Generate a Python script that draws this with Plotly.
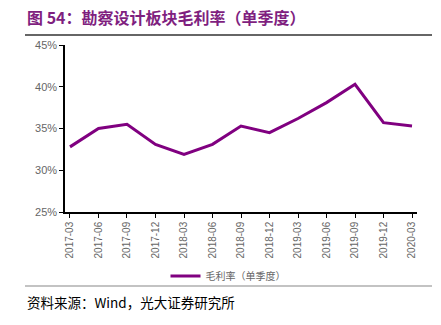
import plotly.graph_objects as go

categories = ["2017-03", "2017-06", "2017-09", "2017-12", "2018-03", "2018-06", "2018-09",
              "2018-12", "2019-03", "2019-06", "2019-09", "2019-12", "2020-03"]
gross_margin = [32.8, 35.0, 35.5, 33.1, 31.9, 33.1, 35.3, 34.5, 36.2, 38.1, 40.3, 35.7, 35.3]
y_ticks = [25, 30, 35, 40, 45]
y_tick_labels = ["25%", "30%", "35%", "40%", "45%"]

title_text = "图 54：勘察设计板块毛利率（单季度）"
source_text = "资料来源：Wind，光大证券研究所"
series_name = "毛利率（单季度）"

W, H = 441, 325

fig = go.Figure()
fig.add_trace(go.Scatter(
    x=categories, y=gross_margin, mode="lines", name=series_name,
    line=dict(color="#800080", width=3),
))

fig.update_layout(
    width=W, height=H,
    margin=dict(l=0, r=0, t=0, b=0, pad=0),
    paper_bgcolor="white", plot_bgcolor="white",
    showlegend=True,
    legend=dict(orientation="h", x=228 / W, xanchor="center", y=(H - 276) / H, yanchor="middle",
                font=dict(family="Noto Sans CJK SC", size=10, color="#666666"),
                itemwidth=30, bgcolor="rgba(0,0,0,0)"),
    font=dict(family="Liberation Sans, Arial", color="#666666"),
    xaxis=dict(
        domain=[65 / W, 417 / W], automargin=False,
        type="category", range=[-0.175, 12.175],
        showline=True, linecolor="black", linewidth=1.5,
        ticks="outside", ticklen=4, tickcolor="black",
        tickangle=-90, tickfont=dict(size=10, color="#666666"),
        showgrid=False, zeroline=False,
    ),
    yaxis=dict(
        domain=[(H - 212) / H, (H - 45) / H], automargin=False,
        range=[25, 45], tickvals=y_ticks, ticktext=y_tick_labels,
        showline=True, linecolor="black", linewidth=1.5,
        ticks="outside", ticklen=4, tickcolor="black",
        tickfont=dict(size=11, color="#666666"),
        showgrid=False, zeroline=False,
    ),
    shapes=[
        dict(type="line", xref="paper", yref="paper", x0=25 / W, x1=432 / W,
             y0=(H - 35) / H, y1=(H - 35) / H, line=dict(color="#333333", width=1.5)),
        dict(type="line", xref="paper", yref="paper", x0=25 / W, x1=432 / W,
             y0=(H - 286) / H, y1=(H - 286) / H, line=dict(color="#888888", width=1.2)),
    ],
)

fig.add_annotation(text=title_text, xref="paper", yref="paper", x=25 / W, y=(H - 17) / H,
                   xanchor="left", yanchor="middle", showarrow=False,
                   font=dict(family="Noto Sans CJK SC", size=16, color="#7F1F7F", weight="bold"))
fig.add_annotation(text=source_text, xref="paper", yref="paper", x=25 / W, y=(H - 302) / H,
                   xanchor="left", yanchor="middle", showarrow=False,
                   font=dict(family="Noto Sans CJK SC", size=13.5, color="#000000"))

fig.write_html("out.html")
